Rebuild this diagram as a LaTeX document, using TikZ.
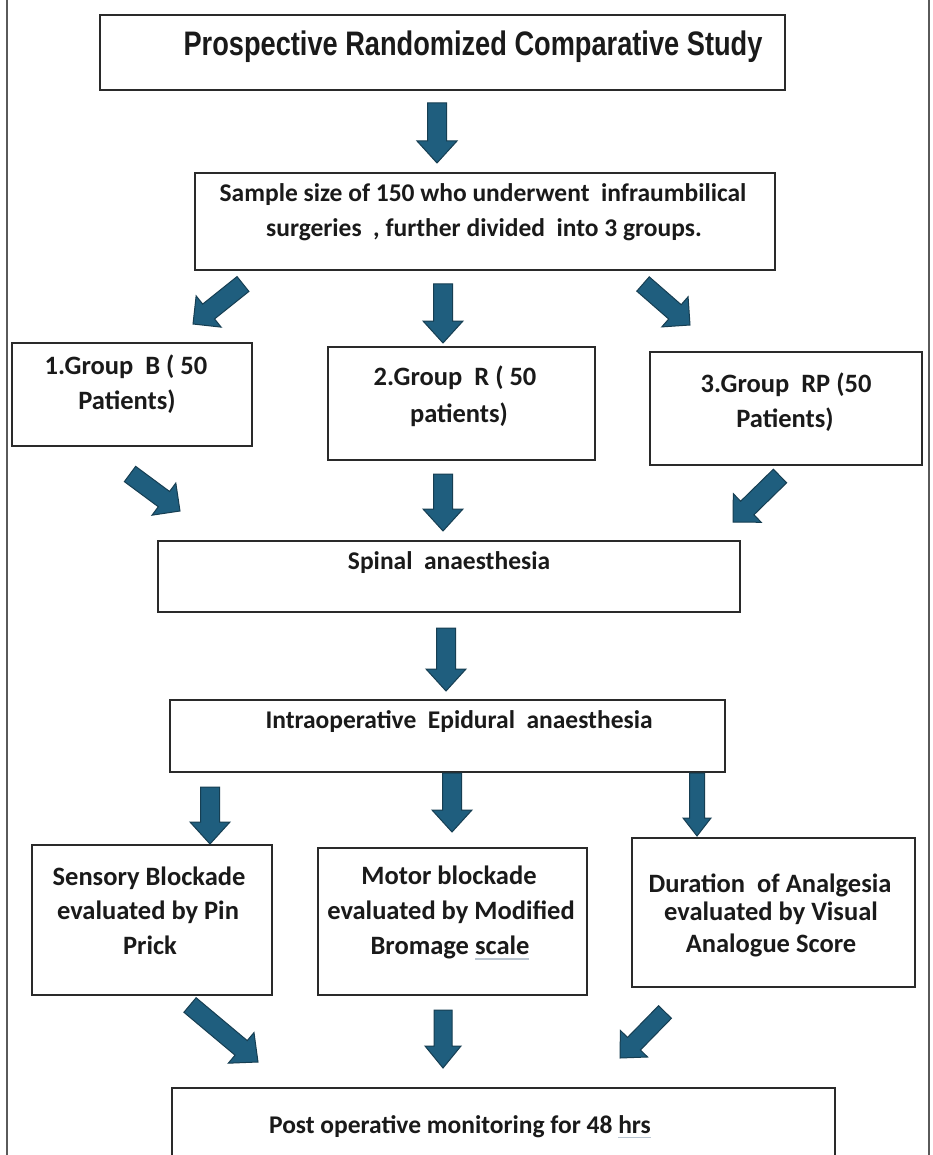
\documentclass[tikz,border=0pt]{standalone}
\usepackage{fontspec}
\setmainfont{Carlito}
\newfontfamily\titlefont[FakeStretch=0.80]{Liberation Sans}
\usetikzlibrary{calc,fit}
\definecolor{arrfill}{HTML}{1F5E7E}
\definecolor{arredge}{HTML}{163E52}
\definecolor{boxline}{HTML}{2A2A2A}
\definecolor{txtcol}{HTML}{1A1A1A}
\definecolor{sideline}{HTML}{5A5A5A}
\definecolor{squig}{HTML}{B8C4D0}
\newcommand\spellmark[1]{\setbox0\hbox{#1}\rlap{\color{squig}\rule[-5pt]{\wd0}{1.8pt}}\box0}
\tikzset{
  box/.style={draw=boxline, line width=1.8pt, inner sep=0pt, rectangle},
  lbl/.style={text=txtcol, font=\fontsize{25.5}{30}\selectfont\bfseries, inner sep=0pt, anchor=center},
  lblw/.style={lbl, font=\fontsize{26.5}{30}\selectfont\bfseries},
  ttl/.style={text=txtcol, font=\titlefont\fontsize{34}{40}\selectfont\bfseries, inner sep=0pt, anchor=center},
  arrowstyle/.style={fill=arrfill, draw=arredge, line width=1pt, line join=miter},
}
% #1 start, #2 tip, #3 shaft half width, #4 head half width, #5 head length
\newcommand\blockarrow[5]{%
  \coordinate (ba-h) at ($(#2)!#5!(#1)$);
  \filldraw[arrowstyle] ($(#1)!#3!90:(#2)$) -- ($(ba-h)!#3!90:(#2)$) -- ($(ba-h)!#4!90:(#2)$) -- (#2)
    -- ($(ba-h)!#4!-90:(#2)$) -- ($(ba-h)!#3!-90:(#2)$) -- ($(#1)!#3!-90:(#2)$) -- cycle;}
\begin{document}
\begin{tikzpicture}[x=1pt,y=-1pt]
\useasboundingbox (0,0) rectangle (932,1155);
\fill[white] (0,0) rectangle (932,1155);
\clip (0,0) rectangle (932,1155);
% page side lines
\coordinate (sl-t) at (7,0); \coordinate (sl-b) at (7,1155);
\coordinate (sr-t) at (929,0); \coordinate (sr-b) at (929,1155);
\draw[sideline, line width=1.3pt] (sl-t) -- (sl-b);
\draw[sideline, line width=1.3pt] (sr-t) -- (sr-b);

% boxes
\node[box, fit={(100,15) (785,90)}] (study) {};
\node[box, fit={(195,173) (775,270)}] (sample) {};
\node[box, fit={(12,343) (252,446)}] (grpB) {};
\node[box, fit={(328,347) (595,460)}] (grpR) {};
\node[box, fit={(650,352) (922,465)}] (grpRP) {};
\node[box, fit={(158,541) (740,612)}] (spinal) {};
\node[box, fit={(170,700) (725,772)}] (intra) {};
\node[box, fit={(32,845) (272,995)}] (sens) {};
\node[box, fit={(318,848) (587,995)}] (motor) {};
\node[box, fit={(632,838) (915,987)}] (dur) {};
\node[box, fit={(172,1088) (835,1180)}] (post) {};

% texts
\node[ttl] (study-t) at (473,47) {Prospective Randomized Comparative Study};
\node[lbl] (sample-t1) at (483,195) {Sample size of 150 who underwent\ \ infraumbilical};
\node[lbl] (sample-t2) at (484,230) {surgeries\ \ , further divided\ \ into 3 groups.};
\node[lblw] (grpB-t1) at (126,367) {1.Group\ \ B ( 50};
\node[lblw] (grpB-t2) at (127,402) {Patients)};
\node[lblw] (grpR-t1) at (455,378) {2.Group\ \ R ( 50};
\node[lblw] (grpR-t2) at (459,415) {patients)};
\node[lblw] (grpRP-t1) at (786,385) {3.Group\ \ RP (50};
\node[lblw] (grpRP-t2) at (785,420) {Patients)};
\node[lbl] (spinal-t) at (449,563) {Spinal\ \ anaesthesia};
\node[lbl] (intra-t) at (459,722) {Intraoperative\ \ Epidural\ \ anaesthesia};
\node[lblw] (sens-t1) at (149,878) {Sensory Blockade};
\node[lblw] (sens-t2) at (148,912) {evaluated by Pin};
\node[lblw] (sens-t3) at (150,945) {Prick};
\node[lblw] (motor-t1) at (449,875) {Motor blockade};
\node[lblw] (motor-t2) at (451,912) {evaluated by Modified};
\node[lblw] (motor-t3) at (450,948) {Bromage \spellmark{scale}};
\node[lblw] (dur-t1) at (770,885) {Duration\ \ of Analgesia};
\node[lblw] (dur-t2) at (771,913) {evaluated by Visual};
\node[lblw] (dur-t3) at (771,945) {Analogue Score};
\node[lbl] (post-t) at (460,1127) {Post operative monitoring for 48 \spellmark{hrs}};

% arrows
\coordinate (a1s) at (437,103);  \coordinate (a1e) at (437,163);
\coordinate (a2ls) at (243,284); \coordinate (a2le) at (193,324);
\coordinate (a2cs) at (443,284); \coordinate (a2ce) at (443,343);
\coordinate (a2rs) at (643,284); \coordinate (a2re) at (690,325);
\coordinate (a3ls) at (130,474); \coordinate (a3le) at (180,511);
\coordinate (a3cs) at (443,474); \coordinate (a3ce) at (443,531);
\coordinate (a3rs) at (780,476); \coordinate (a3re) at (733,522);
\coordinate (a4s) at (446,628);  \coordinate (a4e) at (446,691);
\coordinate (a5ls) at (210,787); \coordinate (a5le) at (210,844);
\coordinate (a5cs) at (452,773); \coordinate (a5ce) at (452,832);
\coordinate (a5rs) at (697,773); \coordinate (a5re) at (697,836);
\coordinate (a6ls) at (190,1005); \coordinate (a6le) at (258,1062);
\coordinate (a6cs) at (443,1010); \coordinate (a6ce) at (443,1068);
\coordinate (a6rs) at (665,1012); \coordinate (a6re) at (620,1058);

\blockarrow{a1s}{a1e}{9.5pt}{20pt}{22pt}
\blockarrow{a2ls}{a2le}{9.5pt}{20pt}{20pt}
\blockarrow{a2cs}{a2ce}{9.5pt}{20pt}{22pt}
\blockarrow{a2rs}{a2re}{9.5pt}{20pt}{20pt}
\blockarrow{a3ls}{a3le}{9.5pt}{20pt}{20pt}
\blockarrow{a3cs}{a3ce}{9.5pt}{20pt}{22pt}
\blockarrow{a3rs}{a3re}{9.5pt}{20pt}{20pt}
\blockarrow{a4s}{a4e}{9.5pt}{20pt}{22pt}
\blockarrow{a5ls}{a5le}{9.5pt}{20pt}{22pt}
\blockarrow{a5cs}{a5ce}{9.5pt}{20pt}{22pt}
\blockarrow{a5rs}{a5re}{7.5pt}{14pt}{18pt}
\blockarrow{a6ls}{a6le}{9.5pt}{20pt}{22pt}
\blockarrow{a6cs}{a6ce}{9pt}{18pt}{22pt}
\blockarrow{a6rs}{a6re}{9pt}{19pt}{20pt}
\end{tikzpicture}
\end{document}
